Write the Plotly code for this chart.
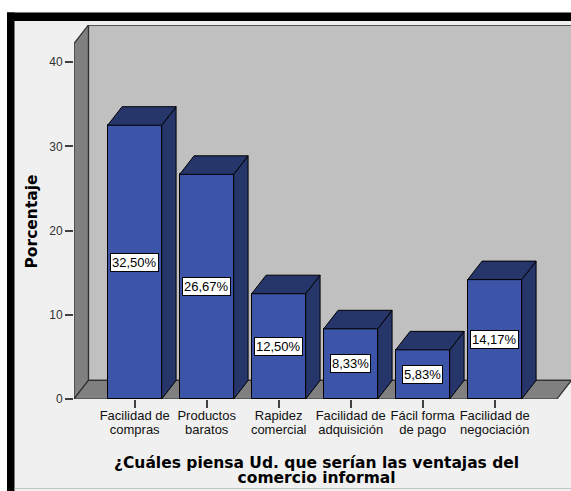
import plotly.graph_objects as go

# ---- data ----
categories = ["Facilidad de<br>compras", "Productos<br>baratos", "Rapidez<br>comercial",
              "Facilidad de<br>adquisición", "Fácil forma<br>de pago", "Facilidad de<br>negociación"]
values = [32.50, 26.67, 12.50, 8.33, 5.83, 14.17]
value_labels = ["32,50%", "26,67%", "12,50%", "8,33%", "5,83%", "14,17%"]
y_ticks = [0, 10, 20, 30, 40]

# ---- geometry (in axis units) ----
W, H = 571, 491
ML, MR, MT, MB = 74, 0, 25, 92
X0, X1 = -0.843, 5.865      # front floor edge
XR = 6.06                   # right end of axis range
DX, DY = 0.2, 2.2           # depth offset
YTOP = 44.4
BW = 0.75

FRONT = "#3d55a8"
DARK = "#26356a"
WALL = "#808080"
BACK = "#c0c0c0"
BG = "#f0f0f0"

fig = go.Figure()

xs = list(range(len(values)))

# side and top faces
for i, v in zip(xs, values):
    l, r = i - BW / 2, i + BW / 2
    fig.add_trace(go.Scatter(
        x=[r, r + DX, r + DX, r, r], y=[0, DY, v + DY, v, 0],
        mode="lines", fill="toself", fillcolor=DARK,
        line=dict(color="#000000", width=1), hoverinfo="skip", showlegend=False))
    fig.add_trace(go.Scatter(
        x=[l, l + DX, r + DX, r, l], y=[v, v + DY, v + DY, v, v],
        mode="lines", fill="toself", fillcolor=DARK,
        line=dict(color="#000000", width=1), hoverinfo="skip", showlegend=False))

# front faces
fig.add_trace(go.Bar(x=xs, y=values, width=BW, marker=dict(color=FRONT, line=dict(color="#000000", width=1)),
                     hoverinfo="skip", showlegend=False))

shapes = [
    dict(type="rect", xref="x", yref="y", x0=X0 + DX, x1=X1 + DX + 0.01, y0=DY, y1=YTOP,
         fillcolor=BACK, line=dict(color="#303030", width=1.5), layer="below"),
    dict(type="path", xref="x", yref="y",
         path=f"M {X0},0 L {X0+DX},{DY} L {X0+DX},{YTOP} L {X0},{YTOP-DY} Z",
         fillcolor=WALL, line=dict(color="#303030", width=1.2), layer="below"),
    dict(type="path", xref="x", yref="y",
         path=f"M {X0},0 L {X1},0 L {X1+DX},{DY} L {X0+DX},{DY} Z",
         fillcolor=WALL, line=dict(color="#303030", width=1.2), layer="below"),
]

def px(p):
    return (p - ML) / (W - ML - MR)

def py(p):
    return (H - MB - p) / (H - MT - MB)

shapes += [
    dict(type="rect", xref="paper", yref="paper", x0=px(0), x1=px(W), y0=py(0), y1=py(12.5),
         fillcolor="#ffffff", line=dict(width=0), layer="above"),
    dict(type="rect", xref="paper", yref="paper", x0=px(0), x1=px(7), y0=py(0), y1=py(H),
         fillcolor="#ffffff", line=dict(width=0), layer="above"),
    dict(type="rect", xref="paper", yref="paper", x0=px(7), x1=px(W), y0=py(12.5), y1=py(21),
         fillcolor="#000000", line=dict(width=0), layer="above"),
    dict(type="rect", xref="paper", yref="paper", x0=px(7), x1=px(14.5), y0=py(12.5), y1=py(H),
         fillcolor="#000000", line=dict(width=0), layer="above"),
    dict(type="line", xref="paper", yref="paper", x0=px(14.5), x1=px(W), y0=py(488.5), y1=py(488.5),
         line=dict(color="#c4c4c4", width=1), layer="above"),
]

annotations = []
for i, v, t in zip(xs, values, value_labels):
    annotations.append(dict(x=i, y=v / 2, xref="x", yref="y", text=t, showarrow=False,
                            font=dict(family="Liberation Sans, Arial", size=13, color="#000000"),
                            bgcolor="#ffffff", bordercolor="#000000", borderwidth=1, borderpad=1))

title_lines = ["¿Cuáles piensa Ud. que serían las ventajas del", "comercio informal"]
annotations.append(dict(x=px(316), y=py(470), xref="paper", yref="paper",
                        text="<br>".join(f"<span style='font-size:15.5px'><b>{s}</b></span>" for s in title_lines),
                        showarrow=False, font=dict(family="DejaVu Sans", size=11.4, color="#000000"),
                        xanchor="center", yanchor="middle"))
annotations.append(dict(x=px(31), y=py(221.5), xref="paper", yref="paper", text="<b>Porcentaje</b>",
                        showarrow=False, textangle=-90,
                        font=dict(family="DejaVu Sans", size=15.5, color="#000000"),
                        xanchor="center", yanchor="middle"))

tick_text = ["<br>".join(f"<span style='font-size:13px'>{p}</span>" for p in c.split("<br>")) for c in categories]

fig.update_layout(
    width=W, height=H,
    margin=dict(l=ML, r=MR, t=MT, b=MB),
    paper_bgcolor=BG, plot_bgcolor=BG,
    shapes=shapes, annotations=annotations,
    bargap=0, barmode="overlay",
    xaxis=dict(range=[X0, XR], tickmode="array", tickvals=xs, ticktext=tick_text,
               showgrid=False, zeroline=False, showline=False,
               ticks="outside", ticklen=8, tickcolor="#404040", tickwidth=1.5,
               tickfont=dict(family="Liberation Sans, Arial", size=10.3, color="#111111"),
               fixedrange=True),
    yaxis=dict(range=[0, YTOP], tickmode="array", tickvals=y_ticks,
               showgrid=False, zeroline=False, showline=False,
               ticks="outside", ticklen=8, tickcolor="#404040", tickwidth=1.5,
               tickfont=dict(family="Liberation Sans, Arial", size=12, color="#333333"),
               fixedrange=True),
)

fig.write_html("out.html", config={"displayModeBar": False},
               post_script="document.body.style.margin='0px';document.body.style.overflow='hidden';")
